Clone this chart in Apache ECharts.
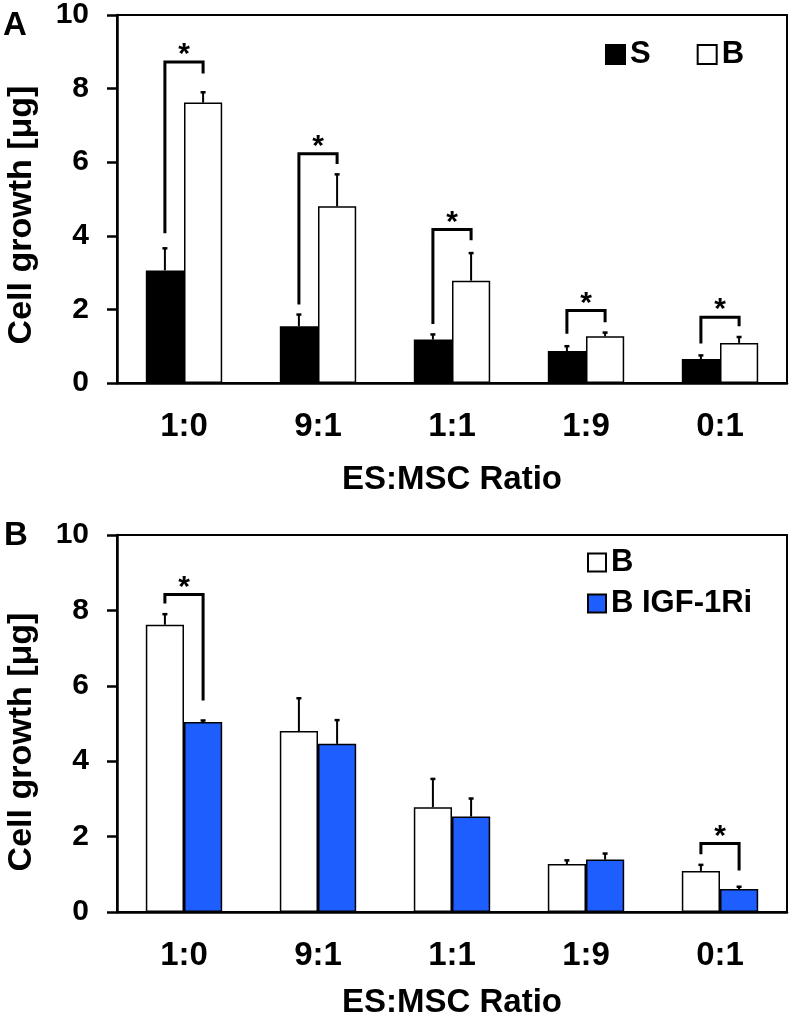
<!DOCTYPE html>
<html>
<head>
<meta charset="utf-8">
<script src="https://cdn.jsdelivr.net/npm/echarts@6/dist/echarts.min.js"></script>
<style>
  html, body { margin: 0; padding: 0; background: #fff; }
  #chart { width: 792px; height: 1020px; }
</style>
</head>
<body>
<div id="chart"></div>
<script>
// ratios on the x axis
const categories = ['1:0', '9:1', '1:1', '1:9', '0:1'];
// panel A: S vs B
const sMean = [3.06, 1.54, 1.18, 0.87, 0.65];
const sErr = [0.60, 0.32, 0.14, 0.13, 0.10];
const bMean = [7.62, 4.80, 2.78, 1.27, 1.09];
const bErr = [0.28, 0.87, 0.75, 0.10, 0.16];
// panel B: B vs B IGF-1Ri
const igfMean = [5.04, 4.46, 2.53, 1.39, 0.61];
const igfErr = [0.04, 0.63, 0.48, 0.16, 0.06];
const yTicks = [0, 2, 4, 6, 8, 10];
// significance brackets: [category, left leg bottom, top, right leg bottom]
const bracketsA = [[0, 4.07, 8.72, 8.41], [1, 2.13, 6.23, 5.95], [2, 1.60, 4.17, 3.88], [3, 1.34, 1.97, 1.65], [4, 1.07, 1.79, 1.54]];
const bracketsB = [[0, 8.18, 8.42, 5.61], [4, 1.53, 1.82, 1.10]];

const FONT = 'Liberation Sans, Arial, sans-serif';
const BLUE = '#1e5eff';
const BAR_FRAC = 0.285;   // each bar's share of the category band

const chart = echarts.init(document.getElementById('chart'), null, { renderer: 'canvas' });

function barSeries(name, idx, values, color) {
  return {
    name: name, type: 'bar', xAxisIndex: idx, yAxisIndex: idx,
    data: values, barWidth: (BAR_FRAC * 100) + '%', barGap: '0%',
    itemStyle: { color: color, borderColor: '#000', borderWidth: 1.5 },
    emphasis: { disabled: true }, z: 2
  };
}

function errSeries(idx, values, errs, side) {
  return {
    type: 'custom', xAxisIndex: idx, yAxisIndex: idx, z: 3,
    data: values.map((v, i) => [i, v, v + errs[i]]),
    renderItem(params, api) {
      const bw = api.size([1, 0])[0];
      const dx = side * bw * BAR_FRAC / 2;
      const p0 = api.coord([api.value(0), api.value(1)]);
      const p1 = api.coord([api.value(0), api.value(2)]);
      const x = p0[0] + dx;
      return {
        type: 'group', children: [
          { type: 'line', shape: { x1: x, y1: p0[1], x2: x, y2: p1[1] }, style: { stroke: '#000', lineWidth: 2 } },
          { type: 'line', shape: { x1: x - 2.5, y1: p1[1], x2: x + 2.5, y2: p1[1] }, style: { stroke: '#000', lineWidth: 2.5 } }
        ]
      };
    }
  };
}

function bracketSeries(idx, brackets) {
  return {
    type: 'custom', xAxisIndex: idx, yAxisIndex: idx, z: 4,
    data: brackets,
    renderItem(params, api) {
      const bw = api.size([1, 0])[0];
      const dx = bw * BAR_FRAC / 2;
      const c = api.value(0);
      const xl = api.coord([c, 0])[0] - dx;
      const xr = api.coord([c, 0])[0] + dx;
      const yl = api.coord([c, api.value(1)])[1];
      const yt = api.coord([c, api.value(2)])[1];
      const yr = api.coord([c, api.value(3)])[1];
      return {
        type: 'group', children: [
          { type: 'polyline', shape: { points: [[xl, yl], [xl, yt], [xr, yt], [xr, yr]] },
            style: { stroke: '#000', lineWidth: 3, fill: null } },
          { type: 'text', x: (xl + xr) / 2, y: yt + 8,
            style: { text: '*', font: 'bold 30px ' + FONT, fill: '#000', align: 'center', verticalAlign: 'bottom' } }
        ]
      };
    }
  };
}

function xAxis(idx, gap) {
  return {
    type: 'category', gridIndex: idx, data: categories,
    name: 'ES:MSC Ratio', nameLocation: 'middle', nameGap: gap,
    nameTextStyle: { fontFamily: FONT, fontWeight: 'bold', fontSize: 33, color: '#000' },
    axisLine: { lineStyle: { color: '#000', width: 2.5 } },
    axisTick: { length: 12, lineStyle: { color: '#000', width: 2.5 } },
    axisLabel: { fontFamily: FONT, fontWeight: 'bold', fontSize: 33, color: '#000', margin: 27 }
  };
}

function yAxis(idx) {
  return {
    type: 'value', gridIndex: idx, min: yTicks[0], max: yTicks[yTicks.length - 1], interval: 2,
    splitLine: { show: false },
    axisLine: { show: true, lineStyle: { color: '#000', width: 2.5 } },
    axisTick: { show: true, length: 10, lineStyle: { color: '#000', width: 2.5 } },
    axisLabel: { fontFamily: FONT, fontWeight: 'bold', fontSize: 30, color: '#000', margin: 28 }
  };
}

const legendText = { fontFamily: FONT, fontWeight: 'bold', fontSize: 31, color: '#000' };

const option = {
  animation: false,
  backgroundColor: '#fff',
  grid: [
    { left: 117, top: 12, width: 670, height: 371, show: true, borderColor: '#000', borderWidth: 2 },
    { left: 117, top: 535, width: 670, height: 380, show: true, borderColor: '#000', borderWidth: 2 }
  ],
  xAxis: [xAxis(0, 80), xAxis(1, 74)],
  yAxis: [yAxis(0), yAxis(1)],
  legend: [
    { data: ['S', 'B'], left: 600, top: 34, orient: 'horizontal', icon: 'rect',
      itemWidth: 19, itemHeight: 19, itemGap: 46, selectedMode: false, textStyle: legendText },
    { data: ['B', 'B IGF-1Ri'], left: 582, top: 542, orient: 'vertical', icon: 'rect',
      itemWidth: 18, itemHeight: 18, itemGap: 10, selectedMode: false, textStyle: legendText }
  ],
  graphic: [
    { type: 'text', left: 3, top: 9, style: { text: 'A', font: 'bold 33px ' + FONT, fill: '#000' } },
    { type: 'text', left: 4, top: 519, style: { text: 'B', font: 'bold 33px ' + FONT, fill: '#000' } },
    { type: 'text', x: 22, y: 215, rotation: Math.PI / 2,
      style: { text: 'Cell growth [μg]', font: 'bold 34px ' + FONT, fill: '#000', align: 'center', verticalAlign: 'middle' } },
    { type: 'text', x: 22, y: 742, rotation: Math.PI / 2,
      style: { text: 'Cell growth [μg]', font: 'bold 34px ' + FONT, fill: '#000', align: 'center', verticalAlign: 'middle' } }
  ],
  series: [
    barSeries('S', 0, sMean, '#000'),
    barSeries('B', 0, bMean, '#fff'),
    errSeries(0, sMean, sErr, -1),
    errSeries(0, bMean, bErr, 1),
    bracketSeries(0, bracketsA),
    barSeries('B', 1, bMean, '#fff'),
    barSeries('B IGF-1Ri', 1, igfMean, BLUE),
    errSeries(1, bMean, bErr, -1),
    errSeries(1, igfMean, igfErr, 1),
    bracketSeries(1, bracketsB)
  ]
};

chart.setOption(option);
</script>
</body>
</html>
